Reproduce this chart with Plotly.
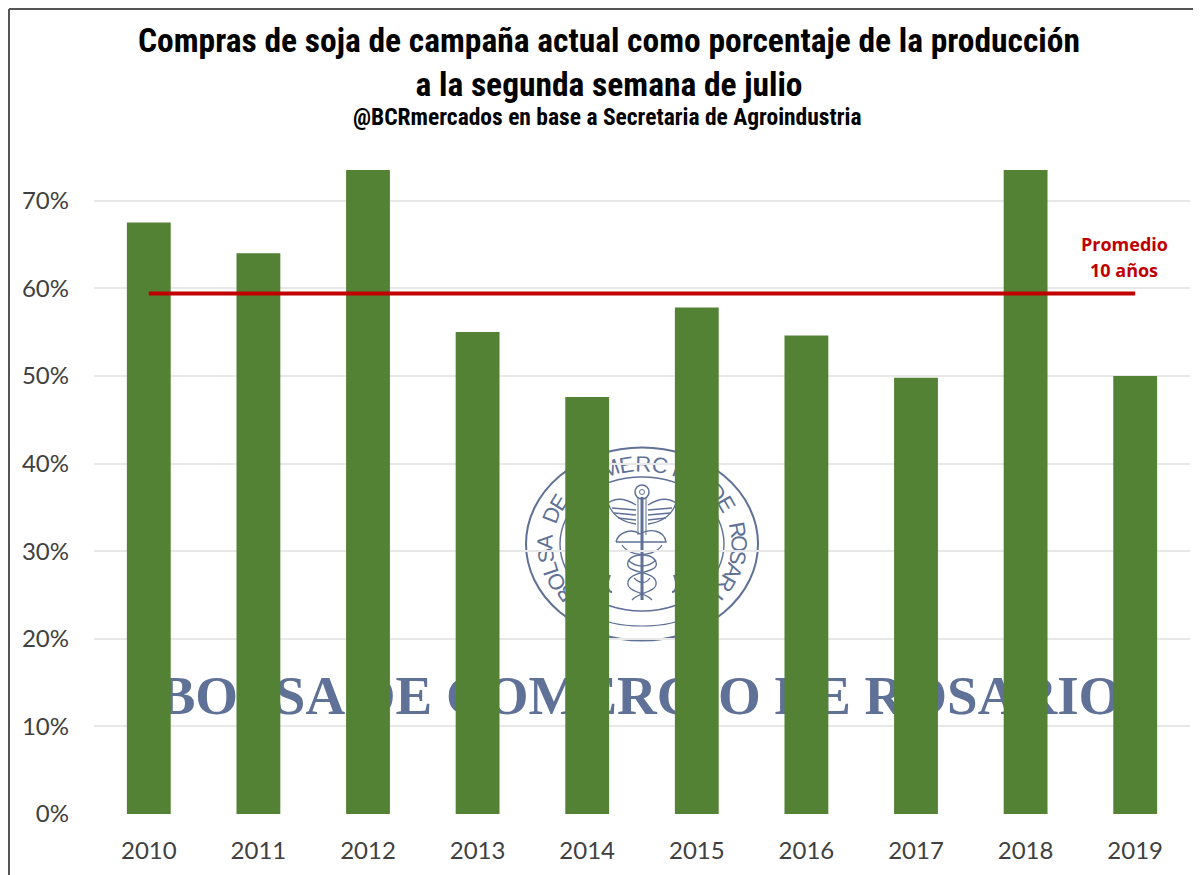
import math
import plotly.graph_objects as go

years = ["2010", "2011", "2012", "2013", "2014", "2015", "2016", "2017", "2018", "2019"]
compras = [67.5, 64.0, 73.5, 55.0, 47.6, 57.8, 54.6, 49.8, 73.5, 50.0]
promedio = [59.4] * 10
y_ticks = [0, 10, 20, 30, 40, 50, 60, 70]
y_labels = ["0%", "10%", "20%", "30%", "40%", "50%", "60%", "70%"]

W, H = 1201, 875
OFF = 8  # page margin of the browser
L, R, T, B = 94, 1190, 170, 814
WM = "#5f7197"


def px(x):
    return (x - L) / (R - L)


def py(y):
    return (B - y) / (B - T)


def p_path(d):
    """Turn a path given in page pixels into paper coordinates."""
    out = []
    toks = d.split()
    i = 0
    while i < len(toks):
        t = toks[i]
        if t.isalpha():
            out.append(t)
            i += 1
        else:
            out.append(f"{px(float(toks[i])):.5f},{py(float(toks[i+1])):.5f}")
            i += 2
    return " ".join(out)


shapes = []


def ring(cx, cy, rx, ry, width=1.6):
    shapes.append(dict(type="circle", xref="paper", yref="paper", layer="below",
                       x0=px(cx - rx), x1=px(cx + rx), y0=py(cy + ry), y1=py(cy - ry),
                       line=dict(color=WM, width=width), fillcolor="rgba(0,0,0,0)"))


def curve(d, width=1.3):
    shapes.append(dict(type="path", xref="paper", yref="paper", layer="below",
                       path=p_path(d), line=dict(color=WM, width=width)))


def label(cx, cy, text, size, angle=0, family="Liberation Sans", color=WM, hw=30, hh=14, bold=False):
    t = f"<b>{text}</b>" if bold else text
    shapes.append(dict(type="rect", xref="paper", yref="paper", layer="below",
                       x0=px(cx - hw), x1=px(cx + hw), y0=py(cy + hh), y1=py(cy - hh),
                       line=dict(width=0), fillcolor="rgba(0,0,0,0)",
                       label=dict(text=t, textangle=angle, textposition="middle center",
                                  font=dict(family=family, size=size, color=color))))


# outer frame of the picture
shapes.append(dict(type="line", xref="paper", yref="paper", x0=px(9), x1=px(9), y0=py(875), y1=py(9),
                   line=dict(color="#555555", width=2)))
shapes.append(dict(type="line", xref="paper", yref="paper", x0=px(9), x1=px(1201), y0=py(9), y1=py(9),
                   line=dict(color="#555555", width=2)))

# watermark seal
cx0, cy0 = 642, 544
ring(cx0, cy0, 116, 96.5, 2)
ring(cx0, cy0, 82, 67, 1.4)
curve("M 590 614 C 615 630 669 630 694 614", 1.2)
seal = "BOLSA DE COMERCIO DE ROSARIO"
for i, ch in enumerate(seal):
    if ch == " ":
        continue
    th = -128 + i * 9.9
    r = math.radians(th)
    label(cx0 + 99 * math.sin(r), cy0 - 82 * math.cos(r), ch, 22, angle=th, hw=12, hh=12)

# caduceus
curve("M 642 497 L 642 600", 3)
curve("M 638 497 L 638 535 M 646 497 L 646 535", 1)
ring(642, 492, 7, 7, 1.5)
ring(642, 492, 2.5, 2.5, 1)
curve("M 636 505 C 625 498 615 498 608 503 C 612 515 622 522 636 524")
curve("M 648 505 C 659 498 669 498 676 503 C 672 515 662 522 648 524")
curve("M 612 508 L 636 510 M 614 513 L 636 515 M 618 518 L 636 520")
curve("M 672 508 L 648 510 M 670 513 L 648 515 M 666 518 L 648 520")
curve("M 616 542 C 618 532 632 528 640 534 C 650 528 664 530 666 542 L 616 542", 1.4)
curve("M 622 545 C 632 560 652 550 656 562 C 660 574 630 570 628 582 C 626 592 645 592 652 600")
curve("M 662 545 C 652 560 632 550 628 562 C 624 574 654 570 656 582 C 658 592 639 592 632 600")
curve("M 628 560 C 636 568 648 568 656 560 M 634 578 C 640 584 646 584 650 578")
curve("M 610 575 C 606 585 608 592 612 592 M 674 575 C 678 585 676 592 672 592", 2)

# watermark wordmark
label(640, 689, "BOLSA DE COMERCIO DE ROSARIO", 55, family="Liberation Serif", hw=520, hh=40, bold=True)

fig = go.Figure()
fig.add_trace(go.Bar(x=years, y=compras, width=0.4, marker=dict(color="#548235", line=dict(width=0)),
                     showlegend=False, hoverinfo="x+y"))
fig.add_trace(go.Scatter(x=years, y=promedio, mode="lines", line=dict(color="#c00000", width=4),
                         showlegend=False))

fig.update_layout(
    width=W - OFF, height=H - OFF,
    margin=dict(l=L - OFF, r=W - R, t=T - OFF, b=H - B, pad=0),
    paper_bgcolor="white", plot_bgcolor="white",
    title=dict(
        text="<b>Compras de soja de campaña actual como porcentaje de la producción<br>a la segunda semana de julio</b>",
        x=(609 - OFF) / (W - OFF), xanchor="center", y=1 - (52 - OFF) / (H - OFF), yanchor="top",
        font=dict(family="Roboto Condensed, Liberation Sans", size=33.5, color="#000000"),
    ),
    xaxis=dict(type="category", showgrid=False, ticks="", showline=False, zeroline=False,
               tickfont=dict(family="Lato", size=24, color="#404040"), ticklabelstandoff=20),
    yaxis=dict(range=[0, 73.5], tickvals=y_ticks, ticktext=y_labels, ticks="", showline=False,
               gridcolor="#e8e8e8", gridwidth=2, zeroline=False, ticklabelstandoff=24,
               tickfont=dict(family="Lato", size=24, color="#404040")),
    shapes=shapes,
    annotations=[
        dict(text="<b>@BCRmercados en base a Secretaria de Agroindustria</b>", xref="paper", yref="paper",
             x=px(607), y=py(117), xanchor="center", yanchor="middle", showarrow=False,
             font=dict(family="Roboto Condensed, Liberation Sans", size=23.5, color="#000000")),
        dict(text="<b>Promedio</b>", xref="paper", yref="paper",
             x=px(1124), y=py(244), xanchor="center", yanchor="middle", showarrow=False,
             font=dict(family="Open Sans", size=18, color="#c00000")),
        dict(text="<b>10 años</b>", xref="paper", yref="paper",
             x=px(1124), y=py(270), xanchor="center", yanchor="middle", showarrow=False,
             font=dict(family="Open Sans", size=18, color="#c00000")),
    ],
)
fig.write_html("out.html")
